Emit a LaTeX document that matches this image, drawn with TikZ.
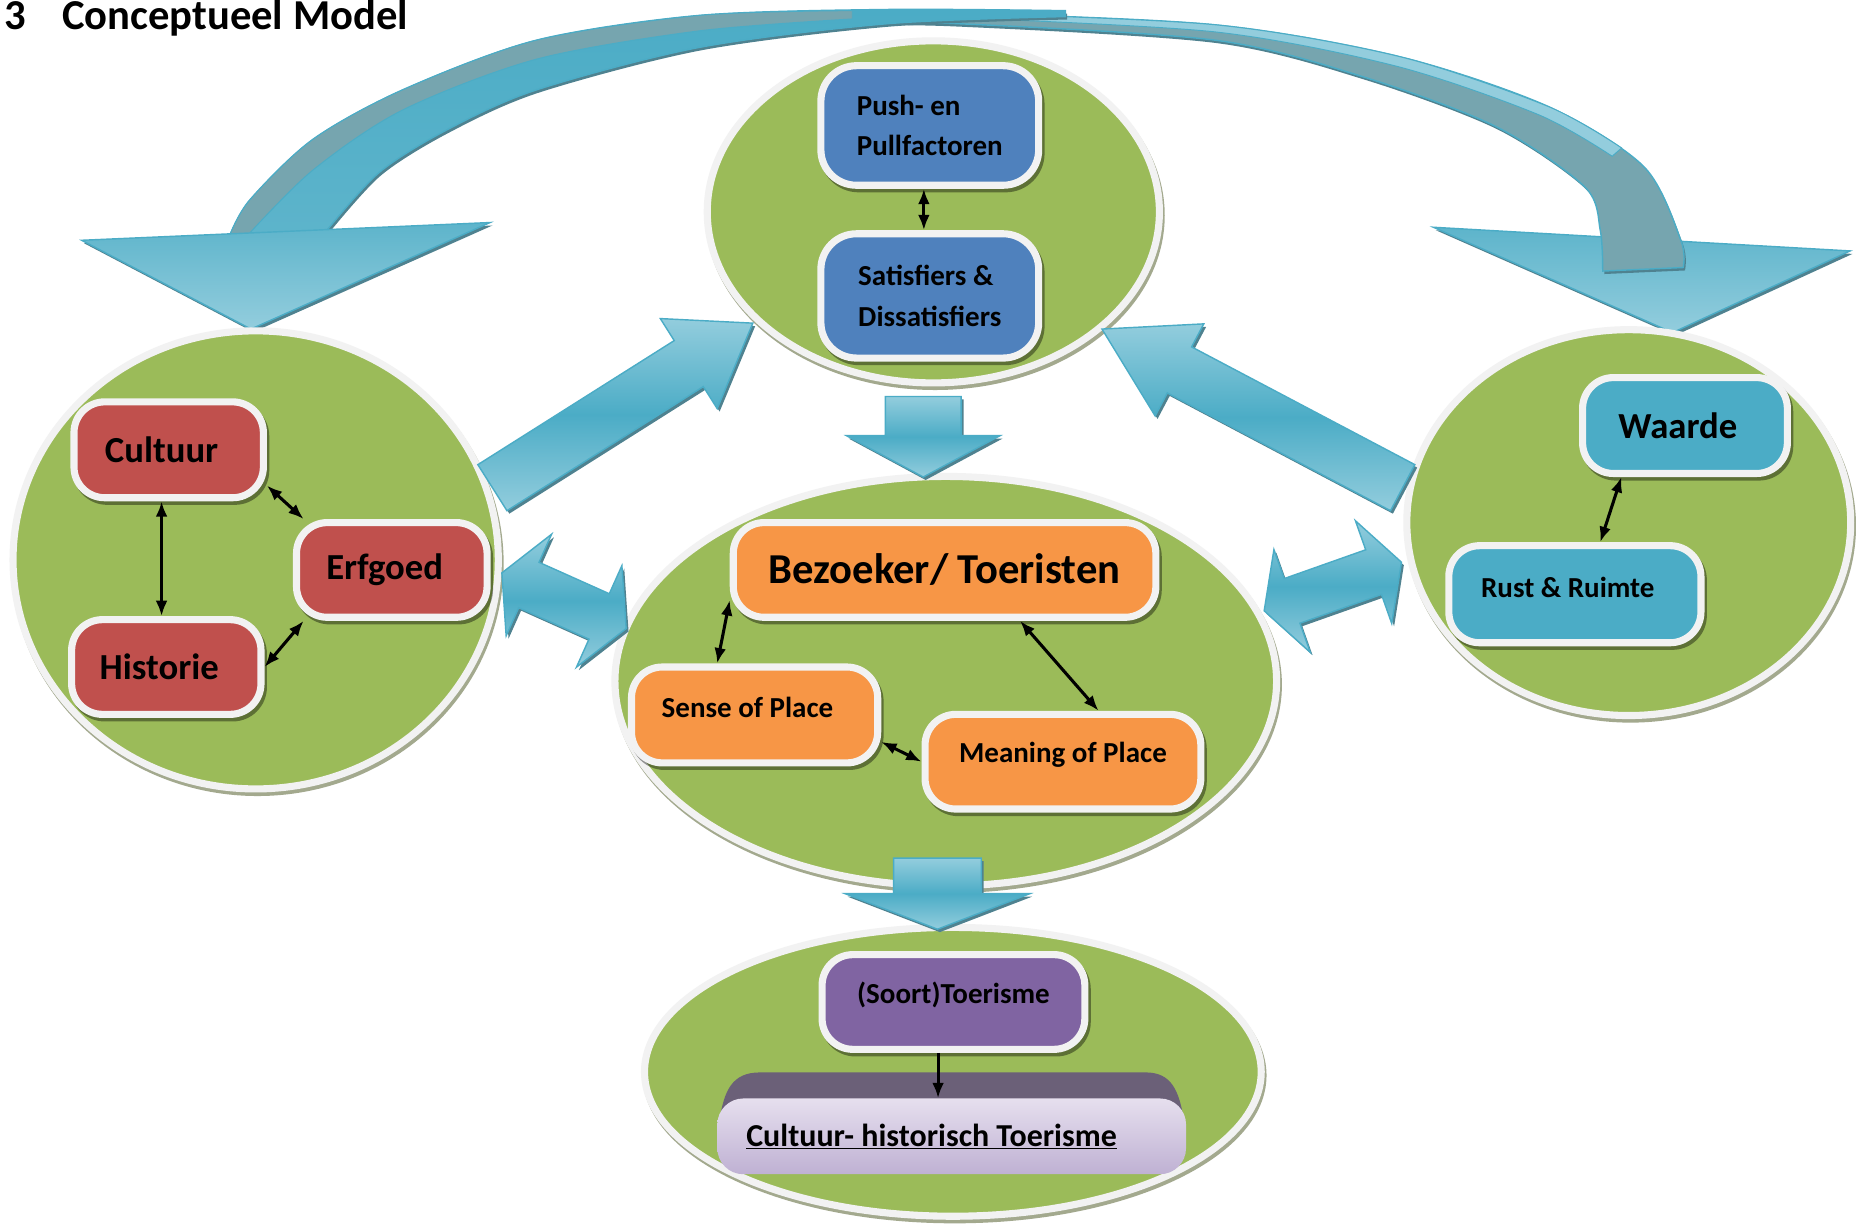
\documentclass[tikz,border=0pt]{standalone}
\usepackage{fontspec}
\setmainfont{Carlito}
\usetikzlibrary{shapes.geometric,arrows.meta,calc}
\definecolor{grn}{HTML}{9BBB59}
\definecolor{rim}{HTML}{F2F2F2}
\definecolor{grpshadow}{HTML}{A3A98E}
\definecolor{bluebox}{HTML}{4F81BD}
\definecolor{redbox}{HTML}{C0504D}
\definecolor{orgbox}{HTML}{F79646}
\definecolor{tealbox}{HTML}{4BACC6}
\definecolor{purbox}{HTML}{8064A2}
\definecolor{arrdark}{HTML}{4BACC6}
\definecolor{arrmid}{HTML}{5DB4CB}
\definecolor{arrlight}{HTML}{93CDDD}
\definecolor{arrgray}{HTML}{76A5AF}
\definecolor{arrshadow}{HTML}{4F8290}
\definecolor{chtop}{HTML}{6B6078}
\definecolor{chlight}{HTML}{E6DFEE}
\definecolor{chdark}{HTML}{BFB1D3}

\newcommand\txtup[1]{\raisebox{6pt}[\height][\depth]{#1}}
\newcommand\txtleft[1]{#1\hspace*{12pt}}

% straight block arrow: #1 options, #2 start, #3 tip, #4 shaft half width, #5 head half width, #6 head length
\newcommand\fatarrow[6]{%
  \coordinate (fah) at ($(#3)!#6!(#2)$);
  \path[#1] ($(#2)!#4!90:(#3)$) -- ($(fah)!#4!90:(#3)$) -- ($(fah)!#5!90:(#3)$) -- (#3)
    -- ($(fah)!#5!-90:(#3)$) -- ($(fah)!#4!-90:(#3)$) -- ($(#2)!#4!-90:(#3)$) -- cycle;}
% double block arrow: #1 options, #2 tip A, #3 tip B, #4 shaft half width, #5 head half width, #6 head length
\newcommand\dblarrow[6]{%
  \coordinate (dha) at ($(#2)!#6!(#3)$);
  \coordinate (dhb) at ($(#3)!#6!(#2)$);
  \path[#1] (#2) -- ($(dha)!#5!90:(#3)$) -- ($(dha)!#4!90:(#3)$) -- ($(dhb)!#4!-90:(#2)$)
    -- ($(dhb)!#5!-90:(#2)$) -- (#3) -- ($(dhb)!#5!90:(#2)$) -- ($(dhb)!#4!90:(#2)$)
    -- ($(dha)!#4!-90:(#3)$) -- ($(dha)!#5!-90:(#3)$) -- cycle;}

\begin{document}
\begin{tikzpicture}[x=1pt,y=-1pt,
  grp/.style={ellipse, inner sep=0pt, fill=grn, draw=rim, line width=6pt,
    preaction={draw=grpshadow, line width=6pt, transform canvas={shift={(1.5pt,-3pt)}}}},
  box/.style={rectangle, rounded corners=26pt, inner sep=0pt, draw=rim, line width=6pt,
    text=black, font=\bfseries\fontsize{24.5pt}{34pt}\selectfont,
    preaction={draw=black, draw opacity=.4, line width=6pt, transform canvas={shift={(2pt,-3pt)}}}},
  bigtxt/.style={font=\bfseries\fontsize{31pt}{36pt}\selectfont},
  blk/.style={draw=arrdark, line width=1.2pt, top color=arrlight, bottom color=arrlight, middle color=arrdark,
    preaction={fill=arrshadow, transform canvas={shift={(2pt,-2.5pt)}}}},
  headsty/.style={draw=arrdark, line width=1.2pt, top color=arrmid, bottom color=arrlight,
    preaction={fill=arrshadow, transform canvas={shift={(2pt,-2.5pt)}}}},
  link/.style={line width=2.6pt, black, {Latex[length=13pt,width=10pt]}-{Latex[length=13pt,width=10pt]}},
  onelink/.style={line width=2.6pt, black, -{Latex[length=13pt,width=10pt]}}
]
\useasboundingbox (0,0) rectangle (1568,1035);
\fill[white] (0,0) rectangle (1568,1035);

% title
\node[anchor=base west, inner sep=0pt, font=\bfseries\fontsize{36pt}{40pt}\selectfont] (title) at (4,25) {3\hspace{30pt}Conceptueel Model};

% ---- curved arrow to the right
\path[headsty] (1211,192) -- (1563,212) -- (1413,281) -- cycle;
\path[fill=arrgray, draw=arrdark, line width=1.2pt,
    preaction={fill=arrshadow, transform canvas={shift={(1.5pt,-2.5pt)}}}]
  plot[smooth] coordinates {(590,15) (700,11) (809,11) (1027,21) (1183,48) (1308,90) (1389,141) (1420,203) (1422,226)}
  -- plot[smooth] coordinates {(1354,229) (1352,195) (1339,158) (1264,107) (1152,65) (1027,34) (809,20) (700,19) (590,19)} -- cycle;
\path[fill=arrlight, draw=arrdark, line width=0.8pt]
  plot[smooth] coordinates {(809,11) (1027,21) (1183,48) (1308,90) (1370,125)}
  -- plot[smooth] coordinates {(1362,132) (1300,97) (1180,56) (1027,27) (809,15)} -- cycle;

% ---- curved arrow to the left
\path[draw=arrdark, line width=1.2pt, top color=arrdark, bottom color=arrmid,
    preaction={fill=arrshadow, transform canvas={shift={(1.5pt,-2.5pt)}}}]
  plot[smooth] coordinates {(900,9) (750,8) (591,13) (453,34) (340,76) (264,118) (211,169) (194,199)}
  -- plot[smooth] coordinates {(275,196) (320,146) (377,110) (453,76) (591,40) (750,20) (900,14)} -- cycle;
\path[fill=arrgray, draw=arrdark, line width=0.8pt]
  plot[smooth] coordinates {(720,9) (591,13) (453,34) (340,76) (264,118) (211,169) (194,199)}
  -- plot[smooth] coordinates {(209,199) (264,144) (340,93) (453,50) (591,26) (720,16)} -- cycle;
\path[headsty] (69,203) -- (414,188) -- (212,278) -- cycle;

% ---- group ellipses
\node[grp, minimum width=382pt, minimum height=289pt] (gtop) at (788.5,179) {};
\node[grp, minimum width=410pt, minimum height=387pt] (gleft) at (216,473) {};
\node[grp, minimum width=559pt, minimum height=346pt] (gmid) at (799,575.5) {};
\node[grp, minimum width=375pt, minimum height=326pt] (gright) at (1376,441.5) {};
\node[grp, minimum width=521pt, minimum height=244pt] (gbot) at (805,905.5) {};

% ---- block arrows between groups
\coordinate (a1s) at (780,335); \coordinate (a1e) at (780,403);
\coordinate (a2s) at (792,725); \coordinate (a2e) at (792,785);
\coordinate (a3s) at (416,412); \coordinate (a3e) at (636,273);
\coordinate (a4s) at (1185,412); \coordinate (a4e) at (931,278);
\coordinate (a5a) at (424,484); \coordinate (a5b) at (529,531);
\coordinate (a6a) at (1068,516); \coordinate (a6b) at (1184,475);
\fatarrow{blk}{a1s}{a1e}{32pt}{65pt}{35pt}
\fatarrow{blk}{a2s}{a2e}{37pt}{78pt}{30pt}
\fatarrow{blk}{a3s}{a3e}{23pt}{45pt}{64pt}
\fatarrow{blk}{a4s}{a4e}{22pt}{44pt}{74pt}
\dblarrow{blk}{a5a}{a5b}{21pt}{47pt}{25pt}
\dblarrow{blk}{a6a}{a6b}{20pt}{46pt}{25pt}

% ---- top group
\node[box, fill=bluebox, rounded corners=30pt, minimum width=184pt, minimum height=101pt, align=left] (push) at (785.5,106) {Push- en\\Pullfactoren};
\node[box, fill=bluebox, rounded corners=30pt, minimum width=184pt, minimum height=105pt, align=left] (sat) at (785.5,250) {Satisfiers \&\\Dissatisfiers};
\draw[link] ([xshift=-5pt]push.south) -- ([xshift=-5pt]sat.north);

% ---- left group
\node[box, fill=redbox, bigtxt, minimum width=160pt, minimum height=81pt] (cult) at (142.5,380) {\txtleft{Cultuur}};
\node[box, fill=redbox, bigtxt, minimum width=161pt, minimum height=80pt] (erf) at (331,481.5) {\txtleft{Erfgoed}};
\node[box, fill=redbox, bigtxt, minimum width=160pt, minimum height=80pt] (hist) at (140.5,563.5) {\txtleft{Historie}};
\draw[link] ([xshift=-6pt]cult.south) -- ([xshift=-6pt]cult.south |- hist.north);
\draw[link] (cult.-20) -- (erf.150);
\draw[link] (hist.0) -- (erf.210);

% ---- middle group
\node[box, fill=orgbox, minimum width=357pt, minimum height=80pt, font=\bfseries\fontsize{36pt}{40pt}\selectfont] (bez) at (798,481.5) {Bezoeker/ Toeristen};
\node[box, fill=orgbox, minimum width=208pt, minimum height=81pt] (sense) at (637.5,604) {\txtup{\txtleft{Sense of Place}}};
\node[box, fill=orgbox, minimum width=233pt, minimum height=80pt] (mean) at (898,643.5) {\txtup{Meaning of Place}};
\draw[link] (bez.188) -- (sense.126);
\draw[link] (bez.-34) -- (mean.55);
\draw[link] (sense.-12) -- (mean.180);

% ---- right group
\node[box, fill=tealbox, bigtxt, minimum width=173pt, minimum height=81pt] (waar) at (1423.5,359.5) {\txtleft{Waarde}};
\node[box, fill=tealbox, minimum width=213pt, minimum height=82pt] (rust) at (1330.5,502) {\txtup{\txtleft{Rust \& Ruimte}}};
\draw[link] (waar.219) -- (rust.64);

% ---- bottom group
\node[box, fill=purbox, minimum width=222pt, minimum height=80pt] (soort) at (805.5,846.5) {\txtup{(Soort)Toerisme}};
\fill[chtop] (608,945) .. controls (612,922) and (618,906) .. (642,906) -- (968,906) .. controls (990,906) and (996,922) .. (1000,945) -- cycle;
\node[rectangle, rounded corners=22pt, minimum width=396pt, minimum height=64pt, inner sep=0pt,
  top color=chlight, bottom color=chdark] (ch) at (804,960) {};
\node[inner sep=0pt, font=\bfseries\fontsize{27pt}{32pt}\selectfont] (chtext) at (787,960) {\underline{Cultuur- historisch Toerisme}};
\draw[onelink] ([xshift=-13pt]soort.south) -- ([xshift=-13pt]soort.south |- ch.north);
\end{tikzpicture}
\end{document}
